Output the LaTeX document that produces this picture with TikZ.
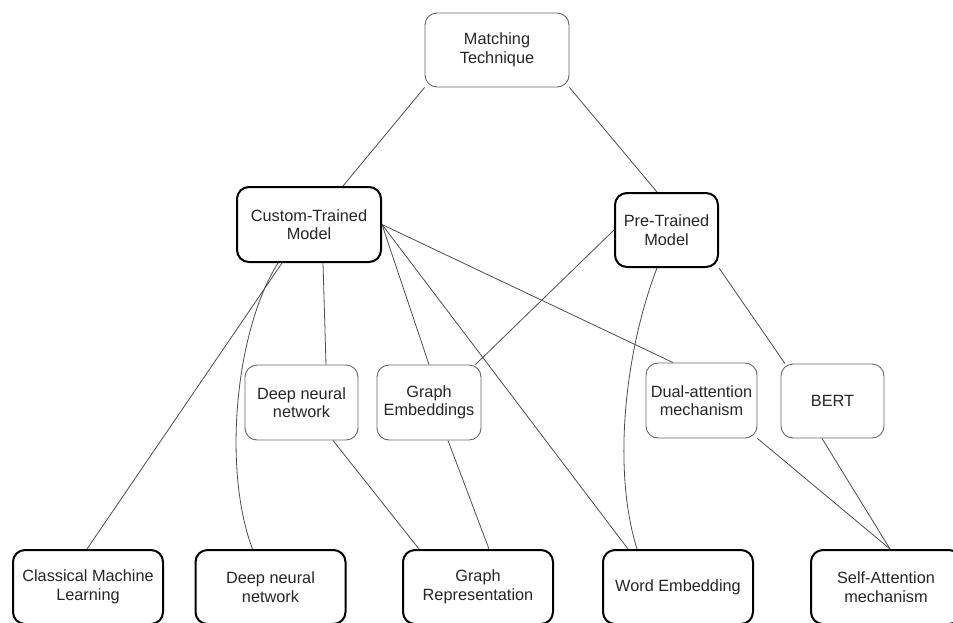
\documentclass[tikz,border=0pt]{standalone}
\usepackage{fontspec}
\setmainfont{Liberation Sans}
\usepackage{tikz}
\usetikzlibrary{shapes,positioning,calc}

\tikzset{
  box/.style={rectangle,rounded corners=12pt,align=center,inner sep=2pt,
    font=\fontsize{16.3}{18.5}\selectfont,text=black!85},
  thinbox/.style={box,draw=black!60,line width=0.9pt},
  thickbox/.style={box,draw=black,line width=2pt},
  link/.style={draw=black!70,line width=0.8pt}
}

\begin{document}
\begin{tikzpicture}[x=1pt,y=-1pt]
        \useasboundingbox (0,0) rectangle (953,622);
        % top and middle levels
        \node[thinbox,minimum width=144pt,minimum height=74pt] (match) at (497,50) {Matching\\Technique};
        \node[thickbox,minimum width=144pt,minimum height=75pt] (custom) at (309,224.5) {Custom-Trained\\Model};
        \node[thickbox,minimum width=103pt,minimum height=74pt] (pre) at (666.5,230) {Pre-Trained\\Model};
        \node[thinbox,minimum width=113pt,minimum height=75pt] (dnnmid) at (301.5,402.5) {Deep neural\\network};
        \node[thinbox,minimum width=104pt,minimum height=75pt] (graphemb) at (429,402.5) {Graph\\Embeddings};
        \node[thinbox,minimum width=111pt,minimum height=75pt] (dual) at (701.5,400.5) {Dual-attention\\mechanism};
        \node[thinbox,minimum width=103pt,minimum height=74pt] (bert) at (832.5,401) {BERT};
        % bottom level
        \foreach \name/\cx/\txt in {classical/88/{Classical Machine\\Learning},dnnbot/270.5/{Deep neural\\network},
          graphrep/478/{Graph\\Representation},word/678/{Word Embedding},selfatt/886/{Self-Attention\\mechanism}}
          {\node[thickbox,minimum width=150pt,minimum height=74pt] (\name) at (\cx,587) {\txt};}
        % connectors
        \draw[link] (match.south west) -- ([xshift=34pt]custom.north);
        \draw[link] (match.south east) -- ([xshift=-9.5pt]pre.north);
        \draw[link] ([xshift=-27pt]custom.south) -- ([xshift=-1pt]classical.north);
        \draw[link] ([xshift=-31pt]custom.south) .. controls +(-43,68) and +(-30,-79) .. ([xshift=-18pt]dnnbot.north);
        \draw[link] ([xshift=14pt]custom.south) -- ([xshift=24.5pt]dnnmid.north);
        \draw[link] (custom.east) -- (graphemb.north);
        \draw[link] (custom.east) -- ([xshift=-50pt]word.north);
        \draw[link] (custom.east) -- ([xshift=-28.5pt]dual.north);
        \draw[link] (pre.west) -- ([xshift=-6pt]graphemb.north east);
        \draw[link] ([xshift=-9.5pt]pre.south) .. controls +(-32,83) and +(-25,-80) .. ([xshift=-41pt]word.north);
        \draw[link] (pre.south east) -- ([xshift=-47.5pt]bert.north);
        \draw[link] ([xshift=31.5pt]dnnmid.south) -- ([xshift=-59pt]graphrep.north);
        \draw[link] ([xshift=19pt]graphemb.south) -- ([xshift=11pt]graphrep.north);
        \draw[link] (dual.south east) -- ([xshift=4pt]selfatt.north);
        \draw[link] ([xshift=-10.5pt]bert.south) -- ([xshift=4pt]selfatt.north);
\end{tikzpicture}
\end{document}
